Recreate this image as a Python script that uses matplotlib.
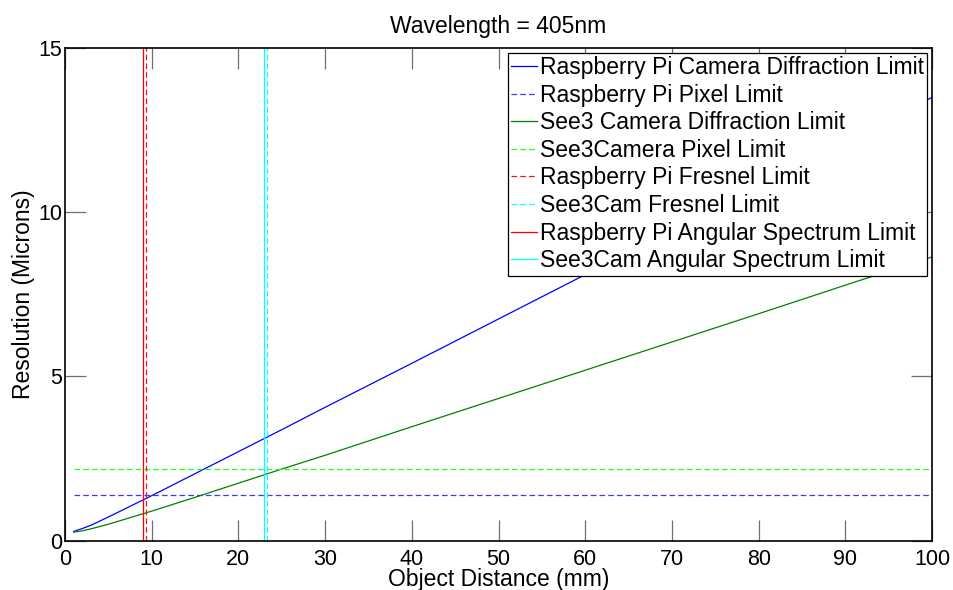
import matplotlib.pyplot as plt

plt.rcParams['font.family'] = ['Liberation Sans', 'DejaVu Sans']

# object distance (mm) and resolution (microns)
dist = [1, 2, 3, 5, 7, 10, 15, 20, 25, 30, 40, 50, 60, 70, 80, 90, 100]
rpi_diff = [0.28, 0.37, 0.47, 0.72, 0.98, 1.37, 2.04, 2.71, 3.38, 4.06, 5.40, 6.75, 8.10, 9.45, 10.80, 12.15, 13.50]
see3_diff = [0.26, 0.30, 0.36, 0.50, 0.66, 0.90, 1.32, 1.75, 2.18, 2.60, 3.47, 4.33, 5.19, 6.05, 6.91, 7.78, 8.64]

rpi_pixel = 1.40
see3_pixel = 2.19
rpi_fresnel = 9.4
see3_fresnel = 23.3
rpi_as = 9.0
see3_as = 22.9

fig = plt.figure(figsize=(9.54, 5.90), dpi=100)
ax = fig.add_axes([0.0681, 0.0836, 0.9089, 0.835])

lw = 0.9
dash = (4.5, 2.5)
ax.plot(dist, rpi_diff, color='#0000ff', lw=lw, label='Raspberry Pi Camera Diffraction Limit')
ax.plot([dist[0], dist[-1]], [rpi_pixel, rpi_pixel], '--', color='#3a3aff', lw=lw,
        dashes=dash, label='Raspberry Pi Pixel Limit')
ax.plot(dist, see3_diff, color='#008000', lw=lw, label='See3 Camera Diffraction Limit')
ax.plot([dist[0], dist[-1]], [see3_pixel, see3_pixel], '--', color='#22ff22', lw=lw,
        dashes=dash, label='See3Camera Pixel Limit')
ax.plot([rpi_fresnel, rpi_fresnel], [0, 15], '--', color='#ff1010', lw=lw,
        dashes=dash, label='Raspberry Pi Fresnel Limit')
ax.plot([see3_fresnel, see3_fresnel], [0, 15], '--', color='#10ffff', lw=lw,
        dashes=dash, label='See3Cam Fresnel Limit')
ax.plot([rpi_as, rpi_as], [0, 15], color='#ff0000', lw=lw, label='Raspberry Pi Angular Spectrum Limit')
ax.plot([see3_as, see3_as], [0, 15], color='#00ffff', lw=lw, label='See3Cam Angular Spectrum Limit')

ax.set_xlim(0, 100)
ax.set_ylim(0, 15)
ax.set_xticks(range(0, 101, 10))
ax.set_yticks([0, 5, 10, 15])
ax.tick_params(direction='in', length=15, width=0.9, top=True, right=True,
               labelsize=15.5, color='#707070')
ax.tick_params(axis='x', pad=6)
ax.tick_params(axis='y', pad=2)
for s in ax.spines.values():
    s.set_linewidth(1.2)

ax.set_title('Wavelength = 405nm', fontsize=16.5, pad=11)
ax.set_xlabel('Object Distance (mm)', fontsize=16.5, labelpad=-1.5)
ax.set_ylabel('Resolution (Microns)', fontsize=16.5, labelpad=2)

leg = ax.legend(loc='upper right', fontsize=16.5, handlelength=1.1, handletextpad=0.15,
                labelspacing=0.2, borderaxespad=0.2, borderpad=0.15, fancybox=False,
                framealpha=1, edgecolor='black')
leg.get_frame().set_linewidth(0.9)

fig.savefig('out.png', dpi=100)
